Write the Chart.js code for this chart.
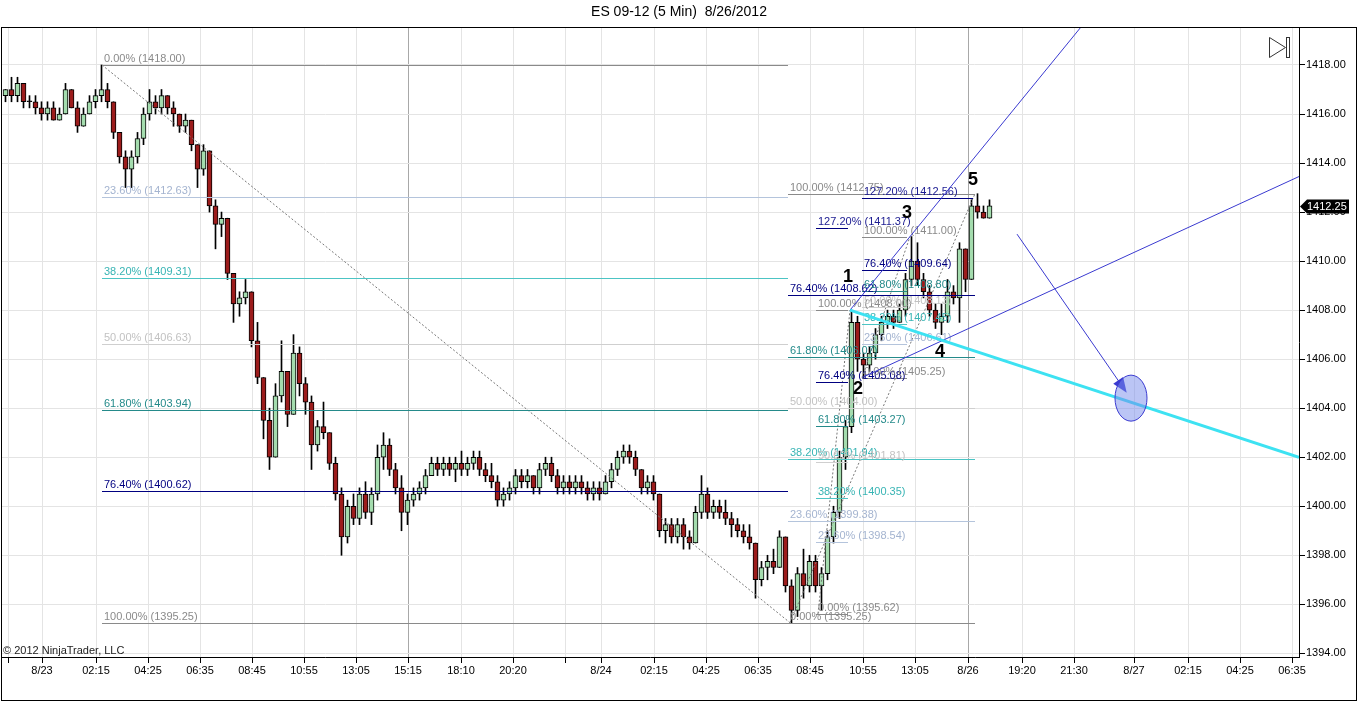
<!DOCTYPE html>
<html><head><meta charset="utf-8">
<script src="https://cdn.jsdelivr.net/npm/chart.js@4.4.0/dist/chart.umd.min.js"></script>
<style>html,body{margin:0;padding:0;background:#fff}#wrap{width:1360px;height:703px;position:relative}</style>
</head><body><div id="wrap"><canvas id="c"></canvas></div>
<script>
// ---- data (15-minute aggregated candles) ----
const opens = [
1416.75,1417.0,1416.75,1417.25,1416.5,1416.5,1416.25,1416.0,1416.25,1415.75,
1416.0,1417.0,1416.25,1415.5,1416.0,1416.5,1416.75,1417.0,1416.5,1415.25,
1414.25,1413.75,1414.25,1415.0,1416.0,1416.5,1416.25,1416.75,1416.25,1416.0,
1415.5,1415.75,1414.75,1413.75,1414.5,1412.25,1411.5,1411.75,1409.5,1408.25,
1408.5,1408.75,1406.75,1405.25,1403.5,1402.0,1404.5,1405.5,1403.75,1406.25,
1405.0,1404.25,1402.5,1403.25,1403.0,1401.75,1400.5,1398.75,1400.0,1399.5,
1400.5,1399.75,1400.5,1402.0,1402.5,1401.5,1400.75,1399.75,1400.25,1400.5,
1400.75,1401.25,1401.75,1401.5,1401.75,1401.5,1401.75,1401.5,1401.75,1402.0,
1401.5,1401.25,1401.0,1400.25,1400.5,1400.75,1401.25,1401.0,1401.25,1400.75,
1401.5,1401.75,1401.25,1400.75,1401.0,1400.75,1401.0,1400.75,1400.5,1400.75,
1400.5,1401.0,1401.5,1402.0,1402.25,1402.0,1401.5,1400.75,1401.0,1400.5,
1399.0,1399.25,1398.75,1399.25,1398.75,1398.5,1399.75,1400.5,1399.75,1400.0,
1399.75,1399.5,1399.25,1399.0,1398.75,1398.5,1397.0,1397.5,1397.75,1397.5,
1398.75,1396.75,1395.75,1397.25,1396.75,1397.75,1396.75,1397.25,1398.75,1399.75,
1402.0,1403.25,1407.5,1406.0,1405.75,1406.25,1407.0,1407.5,1407.75,1407.5,
1408.0,1409.25,1410.0,1409.25,1408.75,1408.0,1407.5,1407.75,1408.75,1408.5,
1410.5,1409.25,1412.25,1412.0,1411.75];
const highs = [
1417.0,1417.5,1417.5,1417.25,1416.75,1416.75,1416.5,1416.5,1416.5,1416.25,
1417.25,1417.0,1416.5,1416.25,1416.75,1417.0,1418.0,1417.25,1416.5,1415.25,
1414.5,1414.5,1415.25,1416.25,1417.0,1416.75,1417.0,1416.75,1416.5,1416.0,
1416.0,1415.75,1414.75,1414.75,1414.5,1412.5,1412.0,1411.75,1409.5,1408.75,
1409.25,1408.75,1407.5,1405.25,1404.0,1405.0,1406.75,1405.5,1407.0,1406.5,
1405.25,1404.5,1403.5,1404.25,1403.0,1402.0,1400.75,1400.25,1400.5,1400.75,
1401.0,1400.75,1402.5,1403.0,1402.75,1401.75,1401.25,1400.5,1400.75,1401.0,
1401.5,1402.0,1402.0,1402.0,1402.0,1402.0,1402.25,1402.0,1402.25,1402.25,
1401.75,1401.75,1401.25,1400.75,1401.0,1401.5,1401.5,1401.5,1401.25,1401.75,
1402.0,1402.0,1401.5,1401.25,1401.25,1401.25,1401.25,1401.0,1401.0,1401.0,
1401.25,1401.75,1402.25,1402.5,1402.5,1402.25,1401.5,1401.25,1401.25,1400.5,
1399.5,1399.5,1399.5,1399.5,1399.0,1400.0,1401.25,1400.75,1400.25,1400.25,
1400.25,1399.75,1399.5,1399.25,1399.25,1398.5,1397.75,1398.0,1398.25,1399.0,
1398.75,1397.0,1397.5,1398.25,1398.0,1398.0,1397.5,1399.0,1400.0,1402.25,
1403.5,1408.0,1407.75,1406.25,1406.5,1407.25,1407.75,1408.0,1408.0,1408.25,
1409.5,1411.0,1410.75,1409.5,1409.0,1408.25,1408.25,1409.25,1409.0,1410.75,
1410.5,1412.5,1412.75,1412.25,1412.5];
const lows = [
1416.5,1416.5,1416.5,1416.25,1416.25,1416.0,1415.75,1415.75,1415.75,1415.75,
1416.0,1416.25,1415.25,1415.5,1416.0,1416.25,1416.5,1416.25,1415.0,1414.0,
1413.0,1413.0,1414.0,1414.75,1415.75,1416.0,1416.0,1416.0,1415.5,1415.25,
1415.25,1414.5,1413.0,1413.5,1412.0,1410.5,1411.0,1409.25,1407.5,1407.75,
1408.25,1406.5,1405.0,1402.75,1401.5,1402.0,1404.25,1403.25,1403.75,1404.5,
1403.75,1401.5,1402.25,1402.75,1401.5,1400.25,1398.0,1398.5,1399.25,1399.25,
1399.5,1399.25,1400.25,1401.5,1401.25,1400.5,1399.0,1399.25,1400.0,1400.25,
1400.5,1401.25,1401.25,1401.25,1401.25,1401.0,1401.25,1401.25,1401.5,1401.25,
1401.0,1400.75,1400.0,1400.0,1400.25,1400.5,1400.75,1400.75,1400.5,1400.5,
1401.25,1401.0,1400.5,1400.5,1400.5,1400.5,1400.5,1400.25,1400.25,1400.25,
1400.5,1400.75,1401.25,1401.75,1401.75,1401.25,1400.5,1400.5,1400.25,1398.75,
1398.5,1398.5,1398.5,1398.25,1398.25,1398.5,1399.5,1399.5,1399.5,1399.5,
1399.25,1398.75,1398.75,1398.5,1398.25,1396.25,1396.75,1397.0,1397.25,1397.5,
1396.5,1395.25,1395.5,1396.25,1396.5,1396.5,1395.75,1397.0,1398.5,1399.5,
1401.5,1403.0,1405.5,1405.25,1405.5,1406.0,1406.75,1407.25,1407.25,1407.5,
1407.75,1409.0,1409.0,1408.5,1407.75,1407.25,1407.0,1407.5,1408.25,1407.5,
1408.75,1409.25,1411.75,1411.75,1411.75];
const closes = [
1417.0,1416.75,1417.25,1416.5,1416.5,1416.25,1416.0,1416.25,1415.75,1416.0,
1417.0,1416.25,1415.5,1416.0,1416.5,1416.75,1417.0,1416.5,1415.25,1414.25,
1413.75,1414.25,1415.0,1416.0,1416.5,1416.25,1416.75,1416.25,1416.0,1415.5,
1415.75,1414.75,1413.75,1414.5,1412.25,1411.5,1411.75,1409.5,1408.25,1408.5,
1408.75,1406.75,1405.25,1403.5,1402.0,1404.5,1405.5,1403.75,1406.25,1405.0,
1404.25,1402.5,1403.25,1403.0,1401.75,1400.5,1398.75,1400.0,1399.5,1400.5,
1399.75,1400.5,1402.0,1402.5,1401.5,1400.75,1399.75,1400.25,1400.5,1400.75,
1401.25,1401.75,1401.5,1401.75,1401.5,1401.75,1401.5,1401.75,1402.0,1401.5,
1401.25,1401.0,1400.25,1400.5,1400.75,1401.25,1401.0,1401.25,1400.75,1401.5,
1401.75,1401.25,1400.75,1401.0,1400.75,1401.0,1400.75,1400.5,1400.75,1400.5,
1401.0,1401.5,1402.0,1402.25,1402.0,1401.5,1400.75,1401.0,1400.5,1399.0,
1399.25,1398.75,1399.25,1398.75,1398.5,1399.75,1400.5,1399.75,1400.0,1399.75,
1399.5,1399.25,1399.0,1398.75,1398.5,1397.0,1397.5,1397.75,1397.5,1398.75,
1396.75,1395.75,1397.25,1396.75,1397.75,1396.75,1397.25,1398.75,1399.75,1402.0,
1403.25,1407.5,1406.0,1405.75,1406.25,1407.0,1407.5,1407.75,1407.5,1408.0,
1409.25,1410.0,1409.25,1408.75,1408.0,1407.5,1407.75,1408.75,1408.5,1410.5,
1409.25,1412.25,1412.0,1411.75,1412.25];

// x axis is in 5-minute bar slots; each drawn candle spans 3 slots
const firstSlot = 2.25, slotsPerCandle = 3;
const tickSlots  = [3.5,20.5,47.5,73.5,99.5,125.5,151.5,177.5,203.5,230,256,282,300,326.5,352.5,378.5,404.5,431,457,483.5,510.5,536.5,566.5,593.5,619.5,645.5];
const tickLabels = ['','8/23','02:15','04:25','06:35','08:45','10:55','13:05','15:15','18:10','20:20','','8/24','02:15','04:25','06:35','08:45','10:55','13:05','8/26','19:20','21:30','8/27','02:15','04:25','06:35'];
const sessionBreaks = ['15:15','8/26'];
const priceTicks = [1394,1396,1398,1400,1402,1404,1406,1408,1410,1412,1414,1416,1418];

// Fibonacci tools as drawn on the chart
const fibLevels  = [0,23.6,38.2,50,61.8,76.4,100];
const fibLevelsX = [0,23.6,38.2,50,61.8,76.4,100,127.2];
const fibAPrices = [1418.00,1412.63,1409.31,1406.63,1403.94,1400.62,1395.25];
const fibBPrices = [1395.25,1399.38,1401.94,1404.00,1406.07,1408.62,1412.75];
const fibCPrices = [1395.62,1398.54,1400.35,1401.81,1403.27,1405.08,1408.00,1411.37];
const fibDPrices = [1405.25,1406.61,1407.45,1408.13,1408.80,1409.64,1411.00,1412.56];
const fibSets = [
  {levels: fibLevels,  prices: fibAPrices, from: 50.5,  to: 393.5},
  {levels: fibLevels,  prices: fibBPrices, from: 393.5, to: 487},
  {levels: fibLevelsX, prices: fibCPrices, from: 407.5, to: 423.5},
  {levels: fibLevelsX, prices: fibDPrices, from: 430.5, to: 453, extTo: 486}
];
const fibDiagonals = [
  [[50.5,1418.00],[394.5,1395.25]],
  [[394.5,1395.25],[487,1412.75]],
  [[408.5,1395.62],[424.5,1408.00]],
  [[430.5,1405.25],[454.5,1411.00]]
];
const waveLabels = ['1','2','3','4','5'];
const waveSlots  = [423.5,428.5,453,469.5,486];
const wavePrices = [1409.35,1404.78,1411.96,1406.29,1413.3];
const channelUpper = [[424.5,1408.0],[454.5,1411.0]];
const channelLower = [[430.5,1405.25],[649,1413.45]];
const targetLine   = [[424.5,1408.0],[649,1402.0]];
const arrowLine    = [[508,1411.1],[562,1404.73]];
const targetEllipse = [565,1404.41];

const FONT = "'Liberation Sans', Arial, sans-serif";
const levelStyle = {
  '0':['#8a8a8a','#8a8a8a'], '23.6':['#b4c4dc','#a4b4d0'], '38.2':['#4cc4c4','#38b4b4'],
  '50':['#cfcfcf','#c2c2c2'], '61.8':['#248a8a','#248a8a'], '76.4':['#000080','#000080'],
  '100':['#8a8a8a','#8a8a8a'], '127.2':['#000080','#1a1a90']
};

const slots = closes.map((_, k) => firstSlot + slotsPerCandle * k);
const wickData = slots.map((s, k) => ({x: s, y: [lows[k], highs[k]]}));
const bodyData = slots.map((s, k) => ({x: s, y: [Math.min(opens[k], closes[k]), Math.max(opens[k], closes[k])]}));
const bodyColors = closes.map((c, k) => c > opens[k] ? '#a4dcae' : (c < opens[k] ? '#9c1c1c' : '#000'));

const annot = {
  id: 'annot',
  afterDatasetsDraw(chart) {
    const {ctx, chartArea: a, scales: {x, y}} = chart;
    const X = v => x.getPixelForValue(v), Y = v => y.getPixelForValue(v);
    ctx.save();
    ctx.beginPath(); ctx.rect(a.left, a.top, a.right - a.left, a.bottom - a.top); ctx.clip();
    ctx.lineWidth = 1;
    ctx.font = '11px ' + FONT;
    ctx.textBaseline = 'alphabetic'; ctx.textAlign = 'left';
    // diagonals
    ctx.setLineDash([2, 2]); ctx.strokeStyle = '#777';
    for (const [p, q] of fibDiagonals) {
      ctx.beginPath(); ctx.moveTo(X(p[0]), Y(p[1])); ctx.lineTo(X(q[0]), Y(q[1])); ctx.stroke();
    }
    ctx.setLineDash([]);
    // fib levels
    for (const s of fibSets) {
      s.levels.forEach((lv, i) => {
        const p = s.prices[i];
        const st = levelStyle[String(lv)];
        const yy = Math.round(Y(p)) + 0.5;
        const x0 = Math.round(X(s.from));
        const x1 = Math.round(X(lv === 127.2 && s.extTo ? s.extTo : s.to));
        ctx.strokeStyle = st[0];
        ctx.beginPath(); ctx.moveTo(x0, yy); ctx.lineTo(x1, yy); ctx.stroke();
      });
    }
    for (const s of fibSets) {
      s.levels.forEach((lv, i) => {
        const p = s.prices[i];
        const st = levelStyle[String(lv)];
        const yy = Math.round(Y(p));
        ctx.fillStyle = st[1];
        ctx.fillText(lv.toFixed(2) + '% (' + p.toFixed(2) + ')', Math.round(X(s.from)) + 2, yy - 3);
      });
    }
    // extended lines
    const ext = (seg, far) => {
      const [p, q] = seg;
      const m = (q[1] - p[1]) / (q[0] - p[0]);
      ctx.beginPath(); ctx.moveTo(X(p[0]), Y(p[1])); ctx.lineTo(X(far), Y(p[1] + m * (far - p[0]))); ctx.stroke();
    };
    ctx.strokeStyle = '#3a3ad0'; ctx.lineWidth = 1;
    ext(channelUpper, 700);
    ext(channelLower, 700);
    ctx.strokeStyle = '#3de2f2'; ctx.lineWidth = 3;
    ctx.beginPath(); ctx.moveTo(X(targetLine[0][0]), Y(targetLine[0][1])); ctx.lineTo(X(targetLine[1][0]), Y(targetLine[1][1])); ctx.stroke();
    // arrow
    ctx.strokeStyle = '#3a3ad0'; ctx.fillStyle = '#3a3ad0'; ctx.lineWidth = 1;
    const ax0 = X(arrowLine[0][0]), ay0 = Y(arrowLine[0][1]), ax1 = X(arrowLine[1][0]), ay1 = Y(arrowLine[1][1]);
    ctx.beginPath(); ctx.moveTo(ax0, ay0); ctx.lineTo(ax1, ay1); ctx.stroke();
    const ang = Math.atan2(ay1 - ay0, ax1 - ax0);
    ctx.beginPath();
    ctx.moveTo(ax1 + 3 * Math.cos(ang), ay1 + 3 * Math.sin(ang));
    ctx.lineTo(ax1 - 12 * Math.cos(ang) + 6 * Math.sin(ang), ay1 - 12 * Math.sin(ang) - 6 * Math.cos(ang));
    ctx.lineTo(ax1 - 12 * Math.cos(ang) - 6 * Math.sin(ang), ay1 - 12 * Math.sin(ang) + 6 * Math.cos(ang));
    ctx.closePath(); ctx.fill();
    // ellipse
    ctx.beginPath(); ctx.ellipse(X(targetEllipse[0]), Y(targetEllipse[1]), 16, 23, 0, 0, Math.PI * 2);
    ctx.fillStyle = 'rgba(120,140,235,0.5)'; ctx.fill();
    ctx.strokeStyle = '#3a3ad0'; ctx.stroke();
    // wave labels
    ctx.font = 'bold 18px ' + FONT; ctx.fillStyle = '#000'; ctx.textAlign = 'center'; ctx.textBaseline = 'middle';
    waveLabels.forEach((t, i) => ctx.fillText(t, X(waveSlots[i]), Y(wavePrices[i])));
    ctx.restore();
  },
  afterDraw(chart) {
    const {ctx, chartArea: a, scales: {y}} = chart;
    ctx.save();
    // copyright
    ctx.font = '11px ' + FONT; ctx.fillStyle = '#222'; ctx.textAlign = 'left'; ctx.textBaseline = 'alphabetic';
    ctx.fillText('\u00A9 2012 NinjaTrader, LLC', a.left + 2, a.bottom - 3);
    // play-to-end icon
    ctx.strokeStyle = '#333'; ctx.lineWidth = 1;
    const ix = Math.round(a.right) - 30, iy = Math.round(a.top) + 10;
    ctx.beginPath(); ctx.moveTo(ix + 0.5, iy + 0.5); ctx.lineTo(ix + 0.5, iy + 20.5); ctx.lineTo(ix + 16.5, iy + 10.5); ctx.closePath(); ctx.stroke();
    ctx.strokeRect(ix + 17.5, iy + 0.5, 3, 20);
    // last price marker
    const last = closes[closes.length - 1];
    const ly = Math.round(y.getPixelForValue(last)) + 0.5;
    const rx = Math.round(a.right);
    ctx.fillStyle = '#000';
    ctx.beginPath(); ctx.moveTo(rx + 1, ly); ctx.lineTo(rx + 8, ly - 7); ctx.lineTo(rx + 50, ly - 7); ctx.lineTo(rx + 50, ly + 7); ctx.lineTo(rx + 8, ly + 7); ctx.closePath(); ctx.fill();
    ctx.fillStyle = '#fff'; ctx.textBaseline = 'middle';
    ctx.fillText(last.toFixed(2), rx + 8, ly + 0.5);
    // outer frame
    ctx.strokeStyle = '#000';
    ctx.strokeRect(1.5, Math.round(a.top) + 0.5, 1355, 700 - Math.round(a.top));
    ctx.restore();
  }
};

new Chart(document.getElementById('c'), {
  type: 'bar',
  data: {
    datasets: [
      {data: wickData, backgroundColor: '#000', borderWidth: 0, barThickness: 1, grouped: false, minBarLength: 1, order: 2},
      {data: bodyData, backgroundColor: bodyColors, borderColor: '#000', borderWidth: 1, borderSkipped: false, barThickness: 5, grouped: false, minBarLength: 1, order: 1}
    ]
  },
  options: {
    responsive: true, maintainAspectRatio: false, animation: false, events: [],
    layout: {padding: {left: 1, right: 3, top: 0, bottom: 3}},
    plugins: {
      legend: {display: false}, tooltip: {enabled: false},
      title: {display: true, text: 'ES 09-12 (5 Min)  8/26/2012', color: '#000',
              font: {family: FONT, size: 14, weight: 'normal'}, padding: {top: 4, bottom: 6.2}}
    },
    scales: {
      x: {
        type: 'linear', min: 0, max: 649, offset: false,
        grid: {offset: false, color: c => (c.tick && sessionBreaks.includes(tickLabels[c.index])) ? '#a8a8a8' : '#e4e4e4',
               tickColor: '#000', tickLength: 6, lineWidth: 1},
        border: {color: '#000', width: 1},
        afterBuildTicks: s => { s.ticks = tickSlots.map(v => ({value: v})); },
        afterFit: s => { s.height = 43; },
        ticks: {autoSkip: false, maxRotation: 0, padding: 1, color: '#000', font: {family: FONT, size: 11},
                callback: (v, i) => tickLabels[i]}
      },
      y: {
        type: 'linear', position: 'right', min: 1393.85, max: 1419.55, beginAtZero: false,
        grid: {color: '#e4e4e4', tickColor: '#000', tickLength: 6},
        border: {color: '#000', width: 1},
        afterBuildTicks: s => { s.ticks = priceTicks.map(v => ({value: v})); },
        afterFit: s => { s.width = 58; },
        ticks: {padding: 1, color: '#000', font: {family: FONT, size: 11}, callback: v => Number(v).toFixed(2)}
      }
    }
  },
  plugins: [annot]
});
</script></body></html>
